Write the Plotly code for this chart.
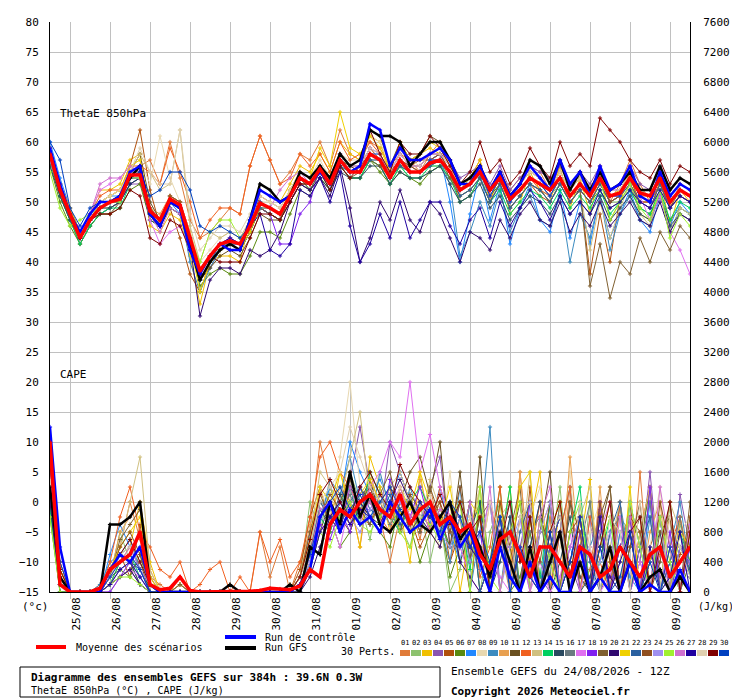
import plotly.graph_objects as go

# ---------------------------------------------------------------- data
# run GEFS 24/08/2026 12Z, one value every 6h, 0..384h
STEP_H = 6
DAYS = ["25/08", "26/08", "27/08", "28/08", "29/08", "30/08", "31/08", "01/09",
        "02/09", "03/09", "04/09", "05/09", "06/09", "07/09", "08/09", "09/09"]
LEFT_TICKS = list(range(-15, 85, 5))
RIGHT_TICKS = list(range(0, 8000, 400))

PERT_COLORS = ["#e07b39", "#8dc26e", "#f0c000", "#8a55b0", "#b0500c", "#5a8a10", "#2288ff", "#e8d8b0",
               "#3b8bc0", "#e8a050", "#6a5020", "#f06020", "#d0c080", "#00d060", "#2a4a60", "#6a7a80",
               "#e070f0", "#8020f0", "#806030", "#300870", "#f0d000", "#2a60a0", "#905020", "#a090f0",
               "#a0f030", "#d070d0", "#2000a0", "#e0d0b0", "#800000", "#0040c0"]

# ThetaE 850hPa (degC)
THETAE_MEAN = [58, 52, 48, 44, 47, 49, 50, 50.5, 54.5, 54.5, 48.5, 47, 50.5, 49.5, 44, 38.5, 41, 43, 43.5, 43,
               46, 49.8, 49, 48, 51, 54, 53, 55.5, 53, 57, 55, 55, 58, 57, 54, 57, 55, 55, 56.5, 57, 55, 52,
               53, 55, 52, 54, 50.5, 52, 54, 53, 52, 54, 51, 53, 51, 54, 51, 51.5, 54, 51.5, 51, 54, 50, 52, 51]
THETAE_CTRL = [59, 53, 48, 45, 48, 50, 50, 51, 55, 56, 48, 46, 50, 49, 42, 38, 41, 43, 42, 42, 47, 52, 51, 50, 51,
               54, 53, 55, 53, 57, 55, 56, 63, 62, 56, 59, 57, 57, 58, 59, 57, 53, 53, 56, 52, 55, 51, 53, 56, 54,
               52, 57, 53, 55, 51, 56, 52, 53, 56, 51, 50, 55, 51, 53, 52]
THETAE_GFS = [58, 52, 48, 44, 47, 49, 50, 51, 54, 56, 48, 46, 50, 49, 43, 37, 40, 42, 43, 42, 47, 53, 52, 50, 51,
              55, 54, 56, 54, 58, 56, 57, 62, 61, 61, 60, 56, 58, 60, 60, 57, 53, 54, 56, 52, 55, 51, 53, 57, 56,
              53, 57, 52, 55, 52, 55, 52, 53, 55, 52, 52, 56, 52, 54, 53]
THETAE_PERTS = [
    [58,53,49,45,48,50,51,52,55,56,57,53,60,54,47,44,45,47,49,48,56,61,57,53,55,58,57,60,56,62,58,57,60,59,56,58,57,55,58,60,56,53,54,57,50,55,52,54,56,55,52,56,53,55,52,56,50,53,57,53,50,55,49,53,52],
    [57,51,47,44,47,49,49,50,53,54,47,46,49,48,43,37,40,42,43,42,45,49,48,47,50,53,52,54,52,56,54,54,57,56,53,56,54,54,55,56,54,51,52,54,51,53,49,51,53,52,51,53,50,52,50,53,50,50,53,50,50,53,49,51,50],
    [59,53,48,45,48,52,52,53,57,58,46,45,48,47,41,33,40,41,41,40,47,52,51,50,53,56,55,58,55,60,58,57,61,60,55,60,57,58,59,58,56,52,54,57,50,55,48,50,55,52,50,56,49,54,48,55,47,50,55,48,47,54,46,52,50],
    [57,52,48,44,46,48,49,50,53,53,49,47,51,50,45,37,39,42,43,42,45,49,48,47,52,55,54,56,54,58,56,55,58,58,54,57,56,55,57,58,57,54,55,56,53,56,52,54,56,55,54,56,53,55,53,56,52,53,56,53,52,55,51,53,52],
    [58,52,48,44,47,48,49,50,56,62,52,46,49,44,38,35,40,42,44,43,46,51,50,49,52,54,53,55,54,57,55,56,59,57,54,56,56,57,57,58,55,50,51,54,50,53,49,51,53,51,50,53,50,52,38,48,40,51,54,50,49,53,49,52,51],
    [56,50,46,43,46,48,48,49,52,53,47,46,49,48,43,36,38,39,38,38,41,45,45,44,48,52,51,54,52,56,54,54,57,55,53,55,54,53,55,56,54,52,53,55,51,53,49,51,53,52,50,53,50,52,50,52,49,50,52,49,48,51,47,49,48],
    [60,54,49,45,48,50,51,51,55,55,48,46,50,48,42,37,40,43,43,43,46,50,49,48,51,54,53,56,53,57,55,56,58,58,55,57,55,55,57,58,50,40,48,55,47,53,43,49,53,47,45,52,44,50,43,51,44,48,52,47,45,51,46,50,48],
    [58,52,48,44,48,50,50,51,56,57,53,61,54,50,45,40,42,44,45,44,47,50,50,49,52,55,54,57,54,58,57,57,61,60,56,59,57,56,58,59,56,52,53,55,51,54,50,52,54,53,52,54,51,53,51,54,51,52,54,51,51,54,50,52,51],
    [58,52,47,44,47,48,49,50,54,54,48,46,50,49,40,35,39,42,43,42,45,49,48,47,51,54,53,55,53,56,55,55,58,57,54,57,55,55,56,57,53,41,45,50,46,52,45,49,51,47,46,51,40,48,44,51,42,48,51,47,46,52,45,49,48],
    [57,52,48,44,47,50,51,52,55,55,49,48,51,50,45,39,41,43,44,43,46,50,49,48,51,54,53,55,53,57,56,56,58,57,55,57,56,55,57,57,55,53,53,55,52,54,51,52,54,53,52,54,51,53,51,54,51,51,54,51,51,54,50,52,51],
    [57,51,47,43,46,48,48,50,55,58,50,47,50,49,43,37,39,41,42,41,44,48,47,47,50,53,53,55,54,57,56,55,62,61,56,60,57,58,61,60,57,53,54,56,52,54,51,52,54,53,52,54,51,52,50,53,50,51,53,50,50,53,49,51,50],
    [59,53,49,45,48,51,52,52,56,56,55,53,59,55,50,44,47,49,49,48,56,61,57,53,54,58,56,58,55,60,57,58,60,58,55,58,56,56,58,58,55,52,53,55,51,54,50,52,54,52,51,54,50,52,50,53,50,51,53,50,50,53,49,51,50],
    [58,52,48,44,47,49,50,51,55,58,55,52,53,62,46,40,45,44,45,44,47,50,49,48,51,54,53,55,53,56,55,55,57,57,54,56,55,55,56,56,54,51,52,54,50,53,49,51,53,52,50,53,50,52,42,50,44,49,53,48,46,52,45,49,48],
    [57,51,47,43,46,48,49,49,53,54,48,46,50,49,43,37,40,42,43,42,45,49,48,47,51,54,52,55,52,56,54,54,57,56,53,56,54,54,56,56,54,50,51,54,50,52,48,50,52,51,49,52,49,51,49,52,48,50,52,49,48,52,47,50,49],
    [56,51,47,44,47,49,49,50,54,54,47,46,49,48,42,37,40,42,43,42,45,49,48,47,50,53,52,54,52,55,54,54,56,56,53,55,54,54,55,56,53,50,51,53,49,51,47,49,51,50,48,51,48,50,48,51,47,49,51,48,47,51,46,48,47],
    [58,52,48,44,47,49,50,50,54,55,49,47,51,50,44,38,41,43,44,43,46,50,49,48,51,54,53,55,53,57,55,55,58,57,54,57,55,55,57,57,55,52,53,55,51,54,50,52,54,53,51,54,51,53,51,54,51,51,54,51,50,54,50,52,51],
    [57,52,48,44,48,52,53,54,56,55,47,43,45,46,42,38,41,43,44,43,46,50,49,48,51,54,53,55,53,57,55,55,58,57,55,57,55,55,57,57,55,52,53,55,51,54,50,52,54,53,51,54,51,53,51,54,51,51,54,51,47,51,45,42,38],
    [59,53,48,44,47,49,50,51,54,55,49,47,51,50,44,38,41,43,44,43,46,49,48,43,43,48,50,56,54,58,56,56,59,58,55,58,56,56,58,58,56,53,54,56,52,55,51,53,55,54,52,55,52,54,52,55,52,52,55,52,51,54,50,52,51],
    [58,52,48,44,47,49,50,51,54,55,48,46,50,49,43,37,40,42,43,42,45,49,48,47,51,54,52,55,53,56,54,55,57,56,54,56,55,55,56,57,54,51,52,54,50,53,49,51,53,52,50,53,50,52,36,43,34,40,38,44,40,45,42,46,44],
    [58,52,48,44,47,49,50,50,53,54,48,47,50,49,43,31,37,39,39,38,42,41,42,45,50,53,52,54,51,56,49,40,44,50,47,52,47,45,50,48,44,40,45,44,42,47,44,48,50,47,46,50,45,48,46,50,46,48,50,47,46,50,45,48,47],
    [59,53,49,45,48,50,51,52,56,57,49,47,51,50,43,35,40,42,43,42,45,49,49,48,52,55,54,59,56,65,59,58,61,59,55,60,57,58,60,59,56,53,54,56,52,55,51,53,55,54,52,55,52,54,52,55,51,52,55,52,51,54,50,52,51],
    [57,52,48,44,47,49,50,50,54,54,48,46,50,49,43,37,40,43,43,43,46,49,49,48,51,54,53,55,53,56,55,55,57,57,54,56,55,55,56,57,55,51,52,54,50,53,49,51,53,52,50,53,50,52,50,53,50,51,53,50,49,53,49,51,50],
    [58,52,48,44,47,49,50,51,55,56,49,47,51,50,44,38,41,43,44,43,46,50,49,48,51,54,53,56,53,57,55,56,58,57,55,57,56,55,57,58,55,52,53,55,51,54,50,52,54,53,51,54,51,53,51,54,50,51,54,51,50,54,50,52,51],
    [57,52,48,44,47,49,50,51,54,54,48,46,50,49,44,38,41,43,44,43,46,50,49,48,51,54,53,55,53,57,55,55,58,57,54,57,55,55,57,57,55,52,53,55,51,54,50,52,54,53,51,54,51,53,51,54,51,51,54,51,50,54,50,52,51],
    [55,49,46,47,48,49,50,50,54,54,48,46,50,49,44,40,45,47,47,44,46,50,49,48,51,54,53,55,53,57,55,55,58,57,54,57,55,55,57,57,55,52,53,55,51,54,50,52,54,53,51,54,51,53,51,54,47,50,53,49,47,52,44,48,46],
    [58,52,48,44,48,53,54,54,56,55,48,45,49,48,43,38,41,43,44,43,46,50,49,52,54,55,53,55,53,57,55,55,58,57,54,57,55,55,57,57,55,52,53,55,51,54,50,52,54,53,51,54,51,53,51,54,51,51,54,51,50,54,50,52,51],
    [58,52,48,44,47,49,50,51,54,55,48,46,50,49,44,38,41,43,44,43,46,48,42,41,43,52,51,54,50,55,46,40,43,48,44,50,44,47,50,50,46,43,47,49,44,50,46,49,52,50,47,51,48,50,48,52,49,50,52,50,49,52,49,51,50],
    [58,52,48,45,48,50,51,52,55,59,55,53,53,62,48,42,44,46,46,45,48,51,50,49,52,55,54,56,54,58,56,56,59,58,55,58,56,56,58,58,56,53,54,56,52,55,51,53,55,54,52,55,52,54,52,55,52,52,55,52,51,54,50,52,51],
    [58,52,48,44,47,48,48,49,52,51,44,43,47,46,42,38,41,40,40,40,44,48,48,47,50,53,53,55,52,56,54,56,62,58,55,60,58,58,61,59,56,53,55,60,55,57,53,55,59,56,54,60,56,58,56,64,62,60,57,55,54,57,53,56,55],
    [60,57,49,46,49,50,50,51,54,55,51,52,55,55,52,46,45,46,45,44,46,50,49,48,51,54,53,55,53,57,55,55,58,57,54,57,55,55,57,57,55,52,53,55,51,54,50,52,54,53,51,54,51,53,51,54,51,51,54,51,50,54,50,52,51],
]

# CAPE, in hundreds of J/kg
CAPE_MEAN = [20, 1, 0, 0, 0, 0.5, 3, 4, 5, 8, 1, 0.3, 0.5, 2, 0.2, 0, 0, 0, 0.1, 0.1, 0.1, 0.2, 0.5, 0.4, 0.3,
             0.8, 3, 2, 9, 11, 10, 12, 13, 11, 10, 13, 9, 11, 12, 9, 10, 8, 9, 5, 3, 7, 8, 5, 2, 6, 6, 4, 2, 6,
             5, 2, 3, 6, 4, 2, 5, 6, 2, 4, 6]
CAPE_CTRL = [22, 6, 0, 0, 0, 0, 3, 5, 4, 6, 1, 0, 0, 0, 0, 0, 0, 0, 0, 0, 0, 0, 0, 0, 0, 1, 3, 10, 12, 8, 11, 9,
             10, 8, 12, 10, 8, 9, 11, 7, 10, 6, 8, 4, 0, 6, 2, 0, 4, 0, 2, 0, 0, 6, 0, 2, 0, 0, 4, 0, 1, 0, 0, 3, 0]
CAPE_GFS = [14, 2, 0, 0, 0, 0, 9, 9, 10, 12, 1, 0, 0, 0, 0, 0, 0, 0, 1, 0, 0, 0, 0, 0, 1, 0, 6, 5, 12, 9, 16, 10,
            13, 9, 8, 10, 12, 9, 8, 10, 12, 7, 9, 6, 2, 8, 4, 0, 6, 0, 4, 8, 0, 4, 0, 2, 6, 0, 4, 0, 2, 3, 0, 2, 0]
CAPE_PERTS = [
    [16,2,0,0,0,1,3,6,12,7,2,1,0,2,0,0,0,0,1,0,0,8,2,6,0,4,8,20,14,10,12,6,15,10,4,10,12,7,14,8,4,10,0,12,0,8,2,16,2,0,10,0,14,0,3,12,0,8,0,16,0,5,10,0,6],
    [12,0,0,0,0,0,2,8,4,1,0,0,0,1,0,0,0,0,0,0,0,0,0,0,0,2,12,8,14,10,16,12,7,14,10,9,6,12,4,10,0,3,12,0,8,12,0,6,10,0,5,14,0,0,12,2,0,10,8,0,14,0,2,9,4],
    [18,4,0,0,0,0,1,4,6,12,4,0,0,1,0,0,0,0,0,0,0,0,0,0,1,0,5,14,9,16,12,6,18,14,8,11,4,16,8,6,12,0,8,14,0,6,14,0,9,16,0,12,0,6,15,0,4,12,0,8,14,0,0,10,3],
    [14,1,0,0,0,0,0,2,3,1,0,0,0,0,0,0,0,0,0,0,0,0,0,0,0,0,3,10,12,8,15,22,14,10,20,16,12,8,14,18,6,12,4,8,2,10,0,6,12,2,0,8,4,0,10,0,3,12,0,4,16,2,0,13,6],
    [20,3,0,0,0,0,3,5,2,9,1,0,0,0,0,0,0,0,0,0,0,0,0,0,0,3,10,14,8,12,16,10,9,12,14,8,10,6,9,12,4,8,0,12,0,10,2,0,14,0,6,10,0,8,0,11,0,4,12,0,6,10,0,5,8],
    [10,0,0,0,0,0,1,3,2,5,0,0,0,1,0,0,0,0,0,0,0,0,0,0,0,1,4,12,10,6,8,12,10,8,6,12,9,4,8,10,2,6,12,0,4,14,0,2,8,0,12,0,4,10,0,8,0,12,0,6,14,0,12,0,4],
    [15,2,0,0,0,0,5,9,6,3,1,0,0,0,0,0,0,0,0,0,0,0,0,0,0,2,8,10,14,12,20,16,13,15,12,16,12,10,9,14,8,4,12,3,0,8,2,10,4,0,12,0,6,2,0,10,0,8,2,0,12,0,4,0,6],
    [14,1,0,0,0,0,0,2,4,6,2,0,0,0,0,0,0,0,0,0,0,0,0,0,0,1,6,14,10,18,28,14,12,16,10,8,14,12,10,6,16,4,9,14,2,8,12,0,10,14,0,6,16,0,8,12,0,4,10,0,6,14,0,8,10],
    [13,0,0,0,0,1,4,5,7,3,0,0,0,0,0,0,0,0,0,0,0,0,0,0,0,0,6,9,15,13,18,12,9,16,11,8,14,10,12,9,4,14,0,8,22,0,10,0,6,12,0,8,14,0,6,10,0,12,4,0,10,0,6,12,3],
    [16,3,0,0,0,0,2,8,10,12,3,0,0,1,0,0,0,0,0,0,0,0,0,0,0,2,9,12,10,14,12,10,16,11,9,12,8,15,10,8,12,6,10,4,12,6,0,16,3,8,12,0,18,4,0,14,0,6,10,0,8,12,0,10,4],
    [12,1,0,0,0,0,1,2,3,4,0,0,0,0,0,0,0,0,0,0,0,0,0,0,0,1,3,8,12,10,8,12,15,10,14,12,16,18,13,20,6,16,4,18,0,10,6,12,0,8,16,0,12,2,0,8,14,0,6,10,0,4,12,0,8],
    [19,4,0,0,0,0,4,10,14,8,6,3,2,4,0,1,3,4,0,2,0,8,4,7,2,4,10,18,20,16,14,11,12,10,8,14,10,12,8,14,10,6,12,2,6,14,0,10,4,12,0,8,14,0,10,4,0,12,0,8,14,0,6,10,2],
    [15,2,0,0,0,0,2,6,12,18,3,0,0,1,0,0,0,0,0,0,0,0,0,0,0,2,7,16,14,12,18,24,12,10,14,16,12,9,15,11,8,12,6,14,0,10,12,4,16,0,8,12,0,10,14,0,6,12,0,8,14,0,12,8,2],
    [11,0,0,0,0,0,1,4,5,2,0,0,0,0,0,0,0,0,0,0,0,0,0,0,0,0,4,10,8,12,14,9,16,13,10,8,12,14,11,9,6,10,3,12,0,6,14,0,10,2,12,0,8,14,0,4,10,0,12,6,0,10,0,8,4],
    [13,1,0,0,0,0,2,3,4,1,0,0,0,0,0,0,0,0,0,0,0,0,0,0,0,1,5,11,9,13,10,14,12,9,11,13,8,10,12,7,10,4,8,12,0,4,10,0,6,12,0,4,10,0,2,8,0,6,10,0,4,8,0,6,3],
    [14,2,0,0,0,0,3,5,6,4,1,0,0,0,0,0,0,0,0,0,0,0,0,0,0,2,6,12,11,10,13,10,14,12,9,11,13,8,12,10,8,12,4,10,2,8,12,0,8,10,2,12,0,6,12,0,8,10,0,6,12,0,4,10,2],
    [17,2,0,0,0,0,1,2,3,2,0,0,0,0,0,0,0,0,0,0,0,0,0,0,0,1,4,8,10,6,12,9,14,16,20,18,28,16,21,14,10,6,2,0,4,2,0,6,0,4,0,2,8,0,6,0,2,10,0,4,0,6,0,2,4],
    [14,1,0,0,0,0,0,2,4,3,0,0,0,0,0,0,0,0,0,0,0,0,0,0,0,0,3,9,7,11,8,14,10,8,15,12,10,14,9,8,12,10,6,8,0,10,2,0,12,0,6,10,0,8,0,12,0,6,10,0,14,0,8,0,6],
    [16,3,0,0,0,0,2,7,9,11,2,0,0,1,0,0,0,0,0,0,0,0,0,0,0,2,8,13,10,12,15,11,9,13,16,10,12,8,14,10,6,12,4,10,12,0,8,14,0,10,6,0,12,8,0,10,14,0,6,12,0,8,10,0,12],
    [12,0,0,0,0,0,1,2,3,1,0,0,0,0,0,0,0,0,0,0,0,0,0,0,0,0,2,6,10,8,14,12,10,9,12,15,12,10,8,6,12,4,2,0,4,8,0,6,2,0,8,0,4,10,0,6,2,0,8,0,4,10,0,6,4],
    [18,3,0,0,0,0,3,6,8,10,2,0,0,0,0,0,0,0,0,0,0,0,0,0,0,2,7,14,12,16,11,13,15,12,10,14,11,16,12,9,14,6,12,10,0,12,4,14,16,0,8,12,2,10,0,6,12,0,14,0,4,10,0,8,6],
    [13,1,0,0,0,0,2,5,4,3,0,0,0,0,0,0,0,0,0,0,0,0,0,0,0,1,5,12,10,9,12,14,11,10,13,9,12,10,11,8,10,6,12,0,4,10,0,8,12,0,6,10,0,12,4,0,8,12,0,6,10,0,4,8,2],
    [15,2,0,0,0,0,2,6,8,5,1,0,0,0,0,0,0,0,0,0,0,0,0,0,0,2,6,10,13,11,9,12,14,10,12,8,13,11,10,12,8,14,6,10,2,12,6,0,10,4,12,0,8,10,0,12,4,0,10,8,0,12,6,0,10],
    [14,1,0,0,0,0,1,3,4,2,0,0,0,0,0,0,0,0,0,0,0,0,0,0,0,1,4,10,9,12,10,8,11,13,10,12,9,10,12,8,6,10,4,8,12,0,6,10,0,8,12,0,6,10,0,4,8,0,12,6,0,10,0,6,4],
    [10,0,0,0,0,0,1,2,2,1,0,0,0,0,0,0,0,0,0,0,0,0,0,0,0,0,3,8,6,10,12,9,8,10,12,8,6,10,9,7,10,12,0,14,2,0,8,12,0,10,4,0,8,12,0,6,10,0,12,6,0,10,4,0,8],
    [16,2,0,0,0,0,2,4,6,3,1,0,0,0,0,0,0,0,0,0,0,0,0,0,0,1,5,11,12,9,14,10,12,9,11,14,10,12,8,11,10,6,12,4,14,0,8,6,0,10,14,0,6,10,0,8,12,0,10,4,0,14,6,0,9],
    [14,1,0,0,0,0,1,3,4,2,0,0,0,0,0,0,0,0,0,0,0,0,0,0,0,0,3,8,10,12,9,11,10,8,12,10,8,9,11,10,12,8,6,4,0,8,2,0,6,0,4,8,0,6,0,10,0,4,8,0,6,0,2,8,0],
    [15,2,0,0,0,0,2,5,6,4,1,0,0,0,0,0,0,0,0,0,0,0,0,0,0,2,6,12,14,16,22,18,14,12,10,14,12,10,13,8,12,6,10,4,12,8,0,10,12,0,8,10,0,12,6,0,10,8,0,12,4,0,10,6,2],
    [17,3,0,0,0,0,3,5,7,4,1,0,0,0,0,0,0,0,0,0,0,0,0,0,0,2,7,13,15,12,10,14,16,13,11,17,14,12,10,13,9,12,8,10,0,6,12,4,10,0,8,12,2,10,0,6,12,0,8,10,0,6,12,0,8],
    [19,4,0,0,0,0,2,4,5,3,0,0,0,0,0,0,0,0,0,0,0,0,0,0,0,1,5,10,12,14,11,13,10,12,14,11,9,12,10,8,12,10,6,8,4,10,0,6,2,0,8,0,4,10,0,6,0,2,8,0,4,0,6,2,0],
]

FONT = "DejaVu Sans Mono"

# ---------------------------------------------------------------- figure
fig = go.Figure()


def hours(serie):
    return [STEP_H * i for i in range(len(serie))]


def add_serie(y, color, width, axis, cape=False):
    if cape:
        y = [v * 100 for v in y]
    fig.add_trace(go.Scatter(x=hours(y), y=y, yaxis=axis, mode="lines+markers",
                             line=dict(color=color, width=width),
                             marker=dict(size=3, symbol="cross-thin", line=dict(color=color, width=1)),
                             showlegend=False, hoverinfo="skip"))


for k in range(30):
    add_serie(THETAE_PERTS[k], PERT_COLORS[k], 1, "y")
    add_serie(CAPE_PERTS[k], PERT_COLORS[k], 1, "y2", cape=True)

add_serie(THETAE_GFS, "black", 2.5, "y")
add_serie(CAPE_GFS, "black", 2.5, "y2", cape=True)
add_serie(THETAE_CTRL, "#0000ff", 2.5, "y")
add_serie(CAPE_CTRL, "#0000ff", 2.5, "y2", cape=True)
add_serie(THETAE_MEAN, "#ff0000", 3.5, "y")
add_serie(CAPE_MEAN, "#ff0000", 3.5, "y2", cape=True)

# the page adds an 8px body margin, so the figure is 8px smaller and shifted back
tick_font = dict(family=FONT, size=11, color="black")
day_lines = [12 + 24 * d for d in range(len(DAYS))]
fig.update_layout(
    width=732, height=692, margin=dict(l=42, r=50, t=14, b=108, autoexpand=False),
    paper_bgcolor="white", plot_bgcolor="white", font=tick_font,
    # labels a little right of the 00Z lines, like the original
    xaxis=dict(range=[0, 384], tickvals=[h + 4 for h in day_lines], ticktext=DAYS,
               tickangle=-90, showgrid=False, ticks="", showline=True, linecolor="black",
               linewidth=1, zeroline=False, tickfont=tick_font,
               minor=dict(tickvals=day_lines, showgrid=True, gridcolor="#c0c0c0", gridwidth=1,
                          ticks="outside", ticklen=6, tickcolor="#c0c0c0")),
    yaxis=dict(range=[-15, 80], tickvals=LEFT_TICKS, showgrid=True, gridcolor="#c0c0c0",
               showline=True, linecolor="black", linewidth=1, zeroline=False, ticks="",
               ticklabelstandoff=8, tickfont=tick_font),
    yaxis2=dict(range=[0, 7600], tickvals=RIGHT_TICKS, overlaying="y", side="right",
                showgrid=False, showline=True, linecolor="black", linewidth=1, zeroline=False,
                ticklabelstandoff=10, tickfont=tick_font),
)


# ---------------------------------------------------------------- texts / legend (pixel helpers)
def px(x):
    return (x - 50) / 640


def py(y):
    return (592 - y) / 570


def text(x, y, s, size=11, bold=False, anchor="left"):
    fig.add_annotation(x=px(x), y=py(y), xref="paper", yref="paper", text=f"<b>{s}</b>" if bold else s,
                       showarrow=False, xanchor=anchor, yanchor="middle",
                       font=dict(family=FONT, size=size, color="black"))


text(58, 113, "ThetaE 850hPa")
text(58, 375, "CAPE")
text(20, 606, "(°c)")
text(696, 606, "(J/kg)", size=10)

for (x0, x1, y, col) in [(36, 66, 647, "#ff0000"), (225, 256, 637, "#0000ff"), (225, 256, 648, "black")]:
    fig.add_shape(type="line", xref="paper", yref="paper", x0=px(x0), x1=px(x1), y0=py(y), y1=py(y),
                  line=dict(color=col, width=4))
text(74, 647, "Moyenne des scénarios", size=10)
text(263, 637, "Run de contrôle", size=10)
text(263, 647, "Run GFS", size=10)
text(339, 652, "30 Perts.", size=10)

for k in range(30):
    x0 = 400 + k * 11
    text(x0 + 5, 643, f"{k + 1:02d}", size=7, anchor="center")
    fig.add_shape(type="rect", xref="paper", yref="paper", x0=px(x0), x1=px(x0 + 10),
                  y0=py(656), y1=py(650), fillcolor=PERT_COLORS[k], line=dict(width=0))

fig.add_shape(type="rect", xref="paper", yref="paper", x0=px(20), x1=px(440), y0=py(667), y1=py(697),
              line=dict(color="black", width=1))
text(29, 677, "Diagramme des ensembles GEFS sur 384h : 39.6N 0.3W", bold=True)
text(29, 690, "ThetaE 850hPa (°C) , CAPE (J/kg)", size=10)
text(449, 671, "Ensemble GEFS du 24/08/2026 - 12Z")
text(449, 691, "Copyright 2026 Meteociel.fr", bold=True)

fig.write_html("out.html")
